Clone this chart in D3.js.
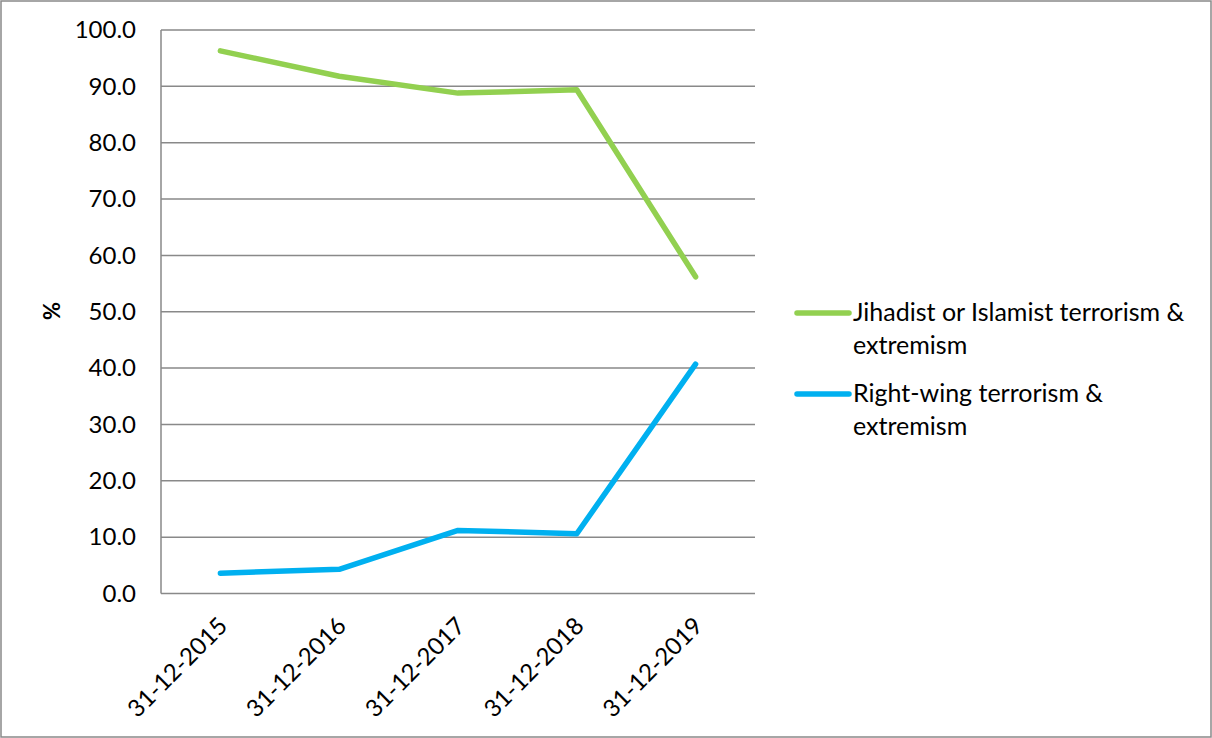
<!DOCTYPE html>
<html><head><meta charset="utf-8">
<script src="https://cdn.jsdelivr.net/npm/d3@7"></script>
<style>body{margin:0;background:#fff}svg{display:block}</style>
</head><body>
<script>
const categories = ["31-12-2015","31-12-2016","31-12-2017","31-12-2018","31-12-2019"];
const jihadist = [96.3, 91.8, 88.8, 89.4, 56.2];
const rightWing = [3.6, 4.3, 11.2, 10.6, 40.7];
const yTicks = [0,10,20,30,40,50,60,70,80,90,100];
const seriesNames = ["Jihadist or Islamist terrorism & extremism", "Right-wing terrorism & extremism"];
const seriesColors = ["#92D050", "#00B0F0"];

const W = 1212, H = 738;
const font = "Lato, 'Open Sans', sans-serif";
const svg = d3.select("body").append("svg").attr("width", W).attr("height", H);
svg.append("rect").attr("x",1).attr("y",1).attr("width",W-2).attr("height",H-2)
  .attr("fill","#fff").attr("stroke","#898989").attr("stroke-width",1.5);

const L = 161, R = 755, T = 30, B = 593.5;
const x = d3.scalePoint().domain(categories).range([L, R]).padding(0.5);
const y = d3.scaleLinear().domain([0, 100]).range([B, T]);

// gridlines
svg.append("g").selectAll("line").data(yTicks).join("line")
  .attr("x1", L).attr("x2", R).attr("y1", d => y(d)).attr("y2", d => y(d))
  .attr("stroke", "#898989").attr("stroke-width", 1.5);
svg.append("line").attr("x1", L).attr("x2", L).attr("y1", T).attr("y2", B)
  .attr("stroke", "#898989").attr("stroke-width", 1.5);

// y axis labels
const yAxis = d3.axisLeft(y).tickValues(yTicks).tickFormat(d3.format(".1f")).tickSize(0).tickPadding(25);
const yg = svg.append("g").attr("transform", `translate(${L},0)`).call(yAxis);
yg.select(".domain").remove();
yg.selectAll("text").attr("font-family", font).attr("font-size", 24).attr("fill", "#000");

// x axis labels
const xAxis = d3.axisBottom(x).tickSize(0).tickPadding(0);
const xg = svg.append("g").attr("transform", `translate(0,${B})`).call(xAxis);
xg.select(".domain").remove();
xg.selectAll("text").attr("font-family", font).attr("font-size", 24).attr("fill", "#000")
  .attr("text-anchor", "end").attr("dy", null).attr("y", 0)
  .attr("transform", "translate(8,34) rotate(-45)");

// y title
svg.append("text").attr("transform", "translate(60,311) rotate(-90)")
  .attr("text-anchor", "middle").attr("font-family", font).attr("font-size", 22)
  .attr("font-weight", "bold").text("%");

// lines
const line = d3.line().x((d, i) => x(categories[i])).y(d => y(d));
[jihadist, rightWing].forEach((s, k) => {
  svg.append("path").datum(s).attr("d", line).attr("fill", "none")
    .attr("stroke", seriesColors[k]).attr("stroke-width", 5.5)
    .attr("stroke-linejoin", "round").attr("stroke-linecap", "round");
});

// legend
const legendLines = [["Jihadist or Islamist terrorism &", "extremism"], ["Right-wing terrorism &", "extremism"]];
const legY = [313, 394];
legendLines.forEach((ls, k) => {
  svg.append("line").attr("x1", 797).attr("x2", 849).attr("y1", legY[k]).attr("y2", legY[k])
    .attr("stroke", seriesColors[k]).attr("stroke-width", 5.5).attr("stroke-linecap", "round");
  const t = svg.append("text").attr("font-family", font).attr("font-size", 25).attr("fill", "#000");
  ls.forEach((s, j) => t.append("tspan").attr("x", 853).attr("y", legY[k] + 8 + j * 33).text(s));
});
</script>
</body></html>
